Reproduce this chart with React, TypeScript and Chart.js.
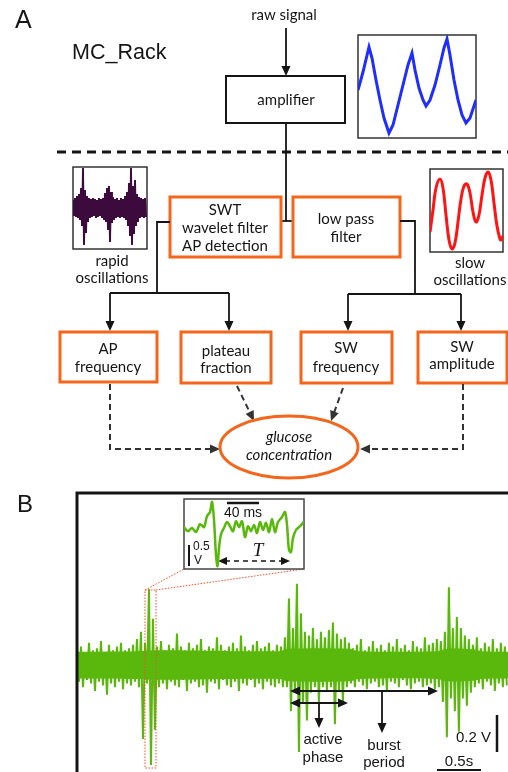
import React, { useEffect, useRef } from "react";
import { Chart, registerables } from "chart.js";

Chart.register(...registerables);

// ---------- Panel B main trace (volts), sampled every 22.7 ms, upper/lower excursions ----------
const SAMPLE_INTERVAL_S = 0.02273;
const traceUpper = [
  0.07, 0.1, 0.06, 0.12, 0.08, 0.09, 0.13, 0.07, 0.11, 0.08, 0.1, 0.12, 0.08, 0.09, 0.11, 0.14,
  0.18, 0.12, 0.41, 0.25, 0.1,
  0.13, 0.08, 0.11, 0.09, 0.17, 0.1, 0.08, 0.12, 0.09, 0.11, 0.14, 0.08, 0.1, 0.09, 0.15, 0.11, 0.08, 0.1, 0.12, 0.09,
  0.16, 0.1, 0.08, 0.11, 0.13, 0.09, 0.1, 0.12, 0.08, 0.11, 0.1,
  0.15, 0.36, 0.2, 0.44, 0.28, 0.18, 0.16, 0.2, 0.14, 0.18, 0.15, 0.19, 0.23, 0.17, 0.14, 0.15,
  0.12, 0.09, 0.11, 0.14, 0.08, 0.1, 0.13, 0.09, 0.11, 0.08, 0.12, 0.1, 0.14, 0.09, 0.11, 0.08, 0.13, 0.1, 0.09, 0.15,
  0.11, 0.12, 0.14,
  0.13, 0.18, 0.42, 0.2, 0.26, 0.2, 0.16, 0.14,
  0.11, 0.15, 0.09, 0.12, 0.1, 0.14, 0.09, 0.12, 0.1,
];
const traceLower = [
  -0.09, -0.12, -0.08, -0.1, -0.14, -0.09, -0.11, -0.16, -0.1, -0.12, -0.09, -0.13, -0.1, -0.11, -0.09, -0.12,
  -0.4, -0.1, -0.54, -0.35, -0.12,
  -0.1, -0.13, -0.09, -0.11, -0.12, -0.08, -0.14, -0.1, -0.09, -0.12, -0.11, -0.15, -0.09, -0.1, -0.13, -0.08, -0.11,
  -0.12, -0.09, -0.14, -0.1, -0.11, -0.08, -0.12, -0.1, -0.13, -0.09, -0.11, -0.12, -0.1, -0.12,
  -0.12, -0.25, -0.15, -0.47, -0.2, -0.3, -0.15, -0.12, -0.2, -0.12, -0.14, -0.12, -0.32, -0.14, -0.2, -0.12,
  -0.1, -0.12, -0.09, -0.11, -0.13, -0.1, -0.09, -0.12, -0.11, -0.14, -0.09, -0.1, -0.12, -0.08, -0.11, -0.13, -0.1,
  -0.09, -0.12, -0.11, -0.1, -0.13, -0.12,
  -0.2, -0.39, -0.18, -0.25, -0.36, -0.18, -0.22, -0.15,
  -0.12, -0.1, -0.13, -0.09, -0.11, -0.14, -0.1, -0.12, -0.11,
];
// dense noise core of the trace (half-width in volts)
const coreTime = [0, 0.7, 0.9, 2.3, 2.4, 3.1, 3.2, 4.1, 4.2, 4.5, 4.6, 4.9];
const coreAmp = [0.072, 0.075, 0.08, 0.075, 0.088, 0.088, 0.075, 0.075, 0.088, 0.085, 0.075, 0.072];

// ---------- Panel B zoomed inset (ms, V) ----------
const zoomTime = [
  0, 5, 10, 15, 20, 25, 28.75, 32.5, 35, 37.5, 40, 41.9, 43.75, 46.25, 50, 53.75, 57.5, 61.25, 65, 68.75, 72.5,
  76.25, 80, 83.75, 87.5, 91.25, 95, 98.75, 102.5, 106.25, 110, 113.75, 117.5, 122.5, 126.25, 128.75, 131.25,
  133.75, 136.25, 140, 143.75, 147.5, 150,
];
const zoomValue = [
  0, -0.1, -0.02, -0.12, 0.07, 0, 0.26, 0.36, 0.6, 0.17, -0.67, -0.93, -0.5, -0.17, -0.02, 0.12, 0.02, -0.1, 0.14,
  0, 0.14, -0.24, 0.02, -0.1, 0.05, -0.14, 0.12, -0.07, 0.1, -0.12, 0.19, -0.12, 0.12, 0.24, 0.36, 0.05, -0.55,
  -0.6, -0.26, -0.07, 0, 0.07, 0.14,
];

// ---------- Panel A raw signal inset ----------
const rawTime = [0, 5, 11, 14, 18, 22, 26, 31, 35, 40, 45, 50, 54, 57, 61, 65, 68, 72, 77, 82, 86, 89, 92, 96, 100, 104, 108, 112, 118];
const rawValue = [48, 66, 91, 80, 58, 38, 20, 5, 13, 33, 53, 73, 85, 68, 50, 38, 32, 38, 53, 73, 90, 99, 83, 58, 38, 23, 15, 20, 38];

// ---------- Panel A rapid oscillations inset ----------
const rapidUp = [8, 10, 12, 14, 20, 40, 18, 12, 10, 9, 10, 9, 8, 10, 9, 10, 15, 20, 22, 16, 11, 9, 10, 8, 10, 9, 12, 16, 25, 40, 22, 28, 14, 11, 10, 9, 10];
const rapidDown = [-8, -9, -10, -12, -18, -37, -25, -14, -10, -9, -8, -10, -9, -8, -10, -12, -14, -22, -34, -15, -12, -10, -9, -10, -9, -10, -12, -18, -28, -37, -26, -18, -14, -10, -9, -10, -9];

// ---------- Panel A slow oscillations inset ----------
const slowTime = [0, 3, 6, 10, 13, 16, 19, 22, 25, 28, 31, 34, 37, 40, 43, 46, 49, 52, 55, 58, 61, 64, 67, 70, 71, 73];
const slowValue = [20, 42, 64, 73, 64, 37, 12, 3, 9, 30, 53, 66, 68, 59, 40, 30, 37, 57, 74, 80, 72, 49, 26, 13, 12, 16];

const ORANGE = "#F4661B";
const GREEN = "#5AB80C";
const INK = "#151515";
const LATO = "Lato, 'Open Sans', sans-serif";
const ARIAL = "'Liberation Sans', Arial, sans-serif";

type P = [number, number];

function poly(ctx: CanvasRenderingContext2D, pts: P[], lw: number, color: string, dash: number[] = []) {
  ctx.beginPath();
  ctx.setLineDash(dash);
  ctx.lineWidth = lw;
  ctx.strokeStyle = color;
  pts.forEach(([x, y], i) => (i ? ctx.lineTo(x, y) : ctx.moveTo(x, y)));
  ctx.stroke();
  ctx.setLineDash([]);
}

function head(ctx: CanvasRenderingContext2D, from: P, to: P, color: string, len = 10, hw = 4.5) {
  const a = Math.atan2(to[1] - from[1], to[0] - from[0]);
  const c = Math.cos(a), s = Math.sin(a);
  ctx.beginPath();
  ctx.fillStyle = color;
  ctx.moveTo(to[0], to[1]);
  ctx.lineTo(to[0] - len * c + hw * s, to[1] - len * s - hw * c);
  ctx.lineTo(to[0] - len * c - hw * s, to[1] - len * s + hw * c);
  ctx.closePath();
  ctx.fill();
}

function arrow(ctx: CanvasRenderingContext2D, pts: P[], lw: number, color: string, dash: number[] = [], len = 10, hw = 4.5) {
  const n = pts.length;
  const from = pts[n - 2], to = pts[n - 1];
  const a = Math.atan2(to[1] - from[1], to[0] - from[0]);
  const end: P = [to[0] - (len - 2) * Math.cos(a), to[1] - (len - 2) * Math.sin(a)];
  poly(ctx, [...pts.slice(0, n - 1), end], lw, color, dash);
  head(ctx, from, to, color, len, hw);
}

function dblArrow(ctx: CanvasRenderingContext2D, a: P, b: P, lw: number, color: string, dash: number[] = [], len = 10, hw = 4.5) {
  const ang = Math.atan2(b[1] - a[1], b[0] - a[0]);
  const c = Math.cos(ang), s = Math.sin(ang);
  poly(ctx, [[a[0] + (len - 2) * c, a[1] + (len - 2) * s], [b[0] - (len - 2) * c, b[1] - (len - 2) * s]], lw, color, dash);
  head(ctx, b, a, color, len, hw);
  head(ctx, a, b, color, len, hw);
}

function txt(ctx: CanvasRenderingContext2D, s: string, x: number, y: number, font: string, align: CanvasTextAlign = "center", color = INK) {
  ctx.font = font;
  ctx.fillStyle = color;
  ctx.textAlign = align;
  ctx.textBaseline = "middle";
  ctx.fillText(s, x, y);
}

function rect(ctx: CanvasRenderingContext2D, x1: number, y1: number, x2: number, y2: number, lw: number, color: string, dash: number[] = []) {
  ctx.beginPath();
  ctx.setLineDash(dash);
  ctx.lineWidth = lw;
  ctx.strokeStyle = color;
  ctx.strokeRect(x1, y1, x2 - x1, y2 - y1);
  ctx.setLineDash([]);
}

const diagramPlugin = {
  id: "diagram",
  afterDraw(chart: any) {
    const ctx: CanvasRenderingContext2D = chart.ctx;
    ctx.save();
    const L15 = `15px ${LATO}`;

    // ----- Panel A -----
    txt(ctx, "A", 15, 21, `25px ${ARIAL}`, "left");
    txt(ctx, "MC_Rack", 72, 53, `21.5px ${ARIAL}`, "left");
    txt(ctx, "raw signal", 284, 15, L15);
    arrow(ctx, [[286, 28], [286, 76]], 1.8, INK);
    rect(ctx, 226, 76, 345, 123, 2, INK);
    txt(ctx, "amplifier", 286, 100, L15);

    // inset frames
    rect(ctx, 358, 35, 476, 138, 1.5, "#333");
    rect(ctx, 73, 167, 147, 249, 1.5, "#333");
    rect(ctx, 430, 169, 503, 252, 1.5, "#333");

    // dashed separator
    poly(ctx, [[57, 152], [508, 152]], 3, INK, [9, 6]);

    // amplifier -> filters
    poly(ctx, [[286, 123], [286, 221]], 1.8, INK);
    poly(ctx, [[281, 221], [293, 221]], 1.8, INK);

    // filter boxes
    rect(ctx, 170, 197, 281, 257, 3, ORANGE);
    txt(ctx, "SWT", 225, 210, L15);
    txt(ctx, "wavelet filter", 225, 228, L15);
    txt(ctx, "AP detection", 225, 246, L15);
    rect(ctx, 293, 197, 400, 257, 3, ORANGE);
    txt(ctx, "low pass", 346, 219, L15);
    txt(ctx, "filter", 346, 237, L15);

    txt(ctx, "rapid", 112, 261, L15);
    txt(ctx, "oscillations", 112, 278, L15);
    txt(ctx, "slow", 470, 263, L15);
    txt(ctx, "oscillations", 470, 280, L15);

    // branches
    poly(ctx, [[170, 222], [157, 222], [157, 293]], 1.8, INK);
    poly(ctx, [[110, 293], [229, 293]], 1.8, INK);
    arrow(ctx, [[110, 293], [110, 331]], 1.8, INK);
    arrow(ctx, [[229, 293], [229, 331]], 1.8, INK);
    poly(ctx, [[400, 221], [415, 221], [415, 294]], 1.8, INK);
    poly(ctx, [[348, 294], [461, 294]], 1.8, INK);
    arrow(ctx, [[348, 294], [348, 331]], 1.8, INK);
    arrow(ctx, [[461, 294], [461, 331]], 1.8, INK);

    // measure boxes
    rect(ctx, 60, 332, 157, 382, 3, ORANGE);
    txt(ctx, "AP", 108, 349, L15);
    txt(ctx, "frequency", 108, 367, L15);
    rect(ctx, 181, 332, 271, 383, 3, ORANGE);
    txt(ctx, "plateau", 226, 351, L15);
    txt(ctx, "fraction", 226, 368, L15);
    rect(ctx, 301, 332, 392, 383, 3, ORANGE);
    txt(ctx, "SW", 346, 348, L15);
    txt(ctx, "frequency", 346, 367, L15);
    rect(ctx, 418, 332, 507, 383, 3, ORANGE);
    txt(ctx, "SW", 462, 347, L15);
    txt(ctx, "amplitude", 462, 364, L15);

    // dashed arrows to glucose
    const DASH = [6, 4];
    arrow(ctx, [[110, 384], [110, 449], [220, 449]], 2, "#333", DASH);
    arrow(ctx, [[237, 386], [254, 421]], 2, "#333", DASH);
    arrow(ctx, [[343, 388], [331, 421]], 2, "#333", DASH);
    arrow(ctx, [[463, 384], [463, 449], [360, 449]], 2, "#333", DASH);

    // glucose ellipse
    ctx.beginPath();
    ctx.lineWidth = 3;
    ctx.strokeStyle = ORANGE;
    ctx.ellipse(289, 447, 69, 31, 0, 0, Math.PI * 2);
    ctx.stroke();
    txt(ctx, "glucose", 289, 437, `italic 15px ${LATO}`);
    txt(ctx, "concentration", 289, 455, `italic 15px ${LATO}`);

    // ----- Panel B -----
    txt(ctx, "B", 17, 505, `24px ${ARIAL}`, "left");
    poly(ctx, [[77, 772], [77, 493], [508, 493]], 3, INK);

    // zoom indication
    rect(ctx, 145, 590, 156, 768, 1, "#F0502A", [1.5, 1.5]);
    poly(ctx, [[145, 590], [184, 569]], 1, "#F0502A", [1.5, 1.5]);
    poly(ctx, [[156, 590], [304, 569]], 1, "#F0502A", [1.5, 1.5]);

    // zoom inset frame and annotations
    rect(ctx, 184, 499, 304, 569, 1.5, "#444");
    poly(ctx, [[227, 503], [259, 503]], 2.5, INK);
    txt(ctx, "40 ms", 243, 513, `14px ${ARIAL}`);
    poly(ctx, [[189, 545], [189, 566]], 2, INK);
    txt(ctx, "0.5", 193, 547, `12px ${ARIAL}`, "left");
    txt(ctx, "V", 194, 561, `12px ${ARIAL}`, "left");
    dblArrow(ctx, [218, 561], [290, 561], 1.6, INK, [5, 4], 9, 4);
    txt(ctx, "T", 258, 551, `italic 19px 'Liberation Serif', 'DejaVu Serif', serif`);

    // burst annotations
    dblArrow(ctx, [290, 691], [438, 691], 1.8, INK);
    dblArrow(ctx, [290, 703], [348, 703], 1.8, INK);
    arrow(ctx, [[319, 703], [319, 728]], 1.8, INK);
    arrow(ctx, [[382, 691], [382, 733]], 1.8, INK);
    txt(ctx, "active", 323, 740, `15px ${ARIAL}`);
    txt(ctx, "phase", 323, 758, `15px ${ARIAL}`);
    txt(ctx, "burst", 384, 746, `15px ${ARIAL}`);
    txt(ctx, "period", 384, 763, `15px ${ARIAL}`);

    // scale bars
    poly(ctx, [[497, 715], [497, 752]], 2.5, INK);
    txt(ctx, "0.2 V", 491, 738, `15px ${ARIAL}`, "right");
    poly(ctx, [[437, 770], [481, 770]], 2, INK);
    txt(ctx, "0.5s", 459, 762, `15px ${ARIAL}`);

    ctx.restore();
  },
};

function baseOptions(xMin: number, xMax: number, yMin: number, yMax: number, padding: any = 0): any {
  return {
    animation: false,
    responsive: false,
    devicePixelRatio: 1,
    events: [],
    layout: { padding },
    plugins: { legend: { display: false }, tooltip: { enabled: false }, title: { display: false } },
    scales: {
      x: { type: "linear", display: false, min: xMin, max: xMax },
      y: { type: "linear", display: false, min: yMin, max: yMax },
    },
  };
}

function lineDataset(points: { x: number; y: number }[], color: string, width: number, tension = 0) {
  return { data: points, borderColor: color, borderWidth: width, pointRadius: 0, tension, fill: false };
}

export default function App() {
  const mainRef = useRef<HTMLCanvasElement>(null);
  const rawRef = useRef<HTMLCanvasElement>(null);
  const rapidRef = useRef<HTMLCanvasElement>(null);
  const slowRef = useRef<HTMLCanvasElement>(null);
  const zoomRef = useRef<HTMLCanvasElement>(null);

  useEffect(() => {
    const charts: Chart[] = [];

    const mainPts: { x: number; y: number }[] = [];
    traceUpper.forEach((u, i) => {
      mainPts.push({ x: 2 * i * SAMPLE_INTERVAL_S, y: u });
      mainPts.push({ x: (2 * i + 1) * SAMPLE_INTERVAL_S, y: traceLower[i] });
    });
    const coreTop = coreTime.map((t, i) => ({ x: t, y: coreAmp[i] }));
    const coreBottom = coreTime.map((t, i) => ({ x: t, y: -coreAmp[i] }));
    charts.push(
      new Chart(mainRef.current!, {
        type: "line",
        data: {
          datasets: [
            lineDataset(mainPts, GREEN, 2.0) as any,
            { data: coreTop, borderWidth: 0, borderColor: GREEN, backgroundColor: GREEN, pointRadius: 0, fill: "+1", tension: 0.4 },
            { data: coreBottom, borderWidth: 0, borderColor: GREEN, pointRadius: 0, fill: false, tension: 0.4 },
          ],
        },
        options: baseOptions(0, 4.9, -0.578, 0.93, { left: 77, top: 493, right: 0, bottom: 0 }),
        plugins: [diagramPlugin as any],
      })
    );

    charts.push(
      new Chart(rawRef.current!, {
        type: "line",
        data: { datasets: [lineDataset(rawTime.map((t, i) => ({ x: t, y: rawValue[i] })), "#1f2dff", 3) as any] },
        options: baseOptions(0, 118, 0, 103),
      })
    );

    const rapidPts: { x: number; y: number }[] = [];
    rapidUp.forEach((u, i) => {
      rapidPts.push({ x: 2 * i, y: u });
      rapidPts.push({ x: 2 * i + 1, y: rapidDown[i] });
    });
    charts.push(
      new Chart(rapidRef.current!, {
        type: "line",
        data: { datasets: [lineDataset(rapidPts, "#3d0a3e", 1.9) as any] },
        options: baseOptions(0, 74, -41, 41),
      })
    );

    charts.push(
      new Chart(slowRef.current!, {
        type: "line",
        data: { datasets: [lineDataset(slowTime.map((t, i) => ({ x: t, y: slowValue[i] })), "#ff1414", 3, 0.4) as any] },
        options: baseOptions(0, 73, 0, 83),
      })
    );

    charts.push(
      new Chart(zoomRef.current!, {
        type: "line",
        data: { datasets: [lineDataset(zoomTime.map((t, i) => ({ x: t, y: zoomValue[i] })), GREEN, 2.5, 0.3) as any] },
        options: baseOptions(0, 150, -1.0, 0.67),
      })
    );

    return () => charts.forEach((c) => c.destroy());
  }, []);

  const abs = (l: number, t: number, w: number, h: number): React.CSSProperties => ({
    position: "absolute",
    left: l,
    top: t,
    width: w,
    height: h,
  });

  return (
    <div style={{ position: "absolute", left: 0, top: 0, width: 508, height: 772, background: "#fff", overflow: "hidden" }}>
      <canvas ref={mainRef} width={508} height={772} style={abs(0, 0, 508, 772)} />
      <canvas ref={rawRef} width={118} height={103} style={abs(358, 35, 118, 103)} />
      <canvas ref={rapidRef} width={74} height={82} style={abs(73, 167, 74, 82)} />
      <canvas ref={slowRef} width={73} height={83} style={abs(430, 169, 73, 83)} />
      <canvas ref={zoomRef} width={120} height={70} style={abs(184, 499, 120, 70)} />
    </div>
  );
}
